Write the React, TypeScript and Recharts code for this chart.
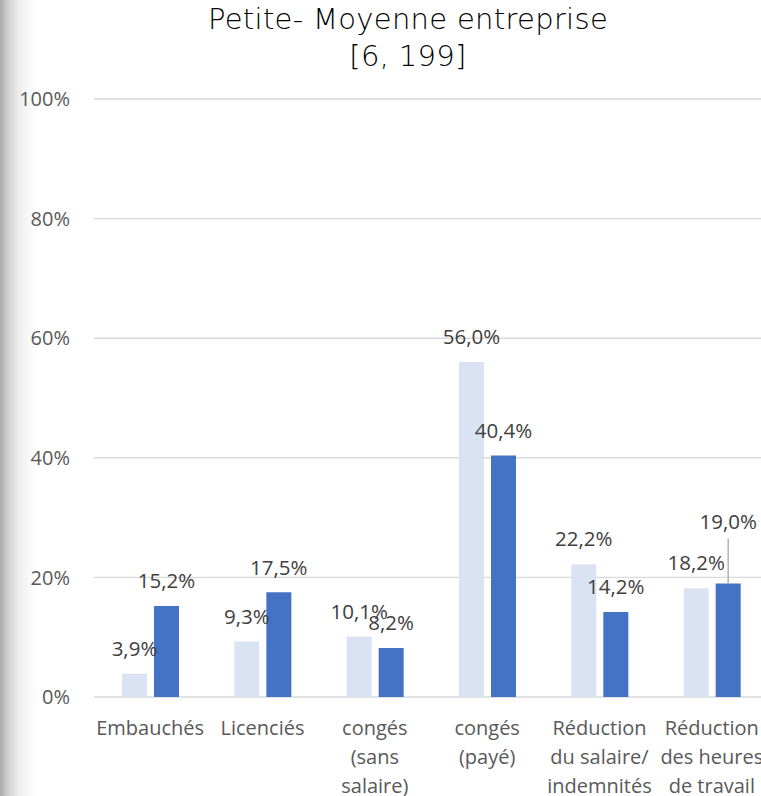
import React from 'react';
import { BarChart, Bar, XAxis, YAxis, CartesianGrid, LabelList } from 'recharts';

const categories = [
  'Embauchés',
  'Licenciés',
  'congés\n(sans\nsalaire)',
  'congés\n(payé)',
  'Réduction\ndu salaire/\nindemnités',
  'Réduction\ndes heures\nde travail',
];
const seriesLight = [3.9, 9.3, 10.1, 56.0, 22.2, 18.2];
const seriesDark = [15.2, 17.5, 8.2, 40.4, 14.2, 19.0];
const yTicks = [0, 20, 40, 60, 80, 100];
const titleLines = ['Petite- Moyenne entreprise', '[6, 199]'];

const data = categories.map((c, i) => ({ name: c, light: seriesLight[i], dark: seriesDark[i] }));

const FONT = "'Open Sans', sans-serif";
const LABEL_GAP = 25;
// leader-line label lift for the last dark bar (Excel manually moved label)
const darkLift: Record<number, number> = { 5: 62 };

const fmt = (v: number) => v.toFixed(1).replace('.', ',') + '%';

const makeLabel = (lift: Record<number, number>) => (props: any) => {
  const { x, y, width, value, index } = props;
  const cx = Number(x) + Number(width) / 2;
  const top = Number(y);
  const l = lift[index];
  const ty = top - (l ?? LABEL_GAP);
  return (
    <g>
      {l !== undefined && (
        <line x1={cx} x2={cx} y1={top} y2={ty + 17} stroke="#a6a6a6" strokeWidth={1.3} />
      )}
      <text x={cx} y={ty} dy="0.35em" textAnchor="middle" fill="#404040" fontSize={20.5} fontFamily={FONT}>
        {fmt(Number(value))}
      </text>
    </g>
  );
};

const XTick = (props: any) => {
  const { x, y, payload } = props;
  const lines = String(payload.value).split('\n');
  return (
    <text x={x} y={y + 31} textAnchor="middle" fill="#595959" fontSize={20} fontFamily={FONT}>
      {lines.map((ln, i) => (
        <tspan key={i} x={x} dy={i === 0 ? '0.35em' : 29}>
          {ln}
        </tspan>
      ))}
    </text>
  );
};

export default function App() {
  return (
    <div
      style={{
        position: 'fixed',
        left: 0,
        top: 0,
        width: 761,
        height: 796,
        overflow: 'hidden',
        background: '#ffffff',
      }}
    >
      <div
        style={{
          position: 'absolute',
          left: 0,
          top: 0,
          width: 38,
          height: 796,
          background: 'linear-gradient(to right, #a9a9a9 0px, #cfcfcf 8px, #ebebeb 18px, #f8f8f8 28px, #ffffff 38px)',
        }}
      />
      <div
        style={{
          position: 'absolute',
          left: 0,
          top: 1,
          width: 816,
          textAlign: 'center',
          fontFamily: "'DejaVu Sans', sans-serif",
          fontWeight: 200,
          fontSize: 29,
          lineHeight: '37px',
          color: '#000000',
          letterSpacing: 0.3,
        }}
      >
        {titleLines.map((t, i) => (
          <div key={i}>{t}</div>
        ))}
      </div>
      <div style={{ position: 'absolute', left: 0, top: 0 }}>
        <BarChart
          width={790}
          height={830}
          data={data}
          margin={{ top: 99, right: 22, left: 0, bottom: 0 }}
          barSize={25}
          barGap={7}
        >
          <CartesianGrid vertical={false} stroke="#d9d9d9" strokeWidth={1.4} />
          <XAxis
            dataKey="name"
            axisLine={false}
            tickLine={false}
            tickSize={0}
            tickMargin={0}
            height={133}
            interval={0}
            tick={<XTick />}
          />
          <YAxis
            domain={[0, 100]}
            ticks={yTicks}
            width={94}
            axisLine={false}
            tickLine={false}
            tickSize={0}
            tickMargin={24}
            tickFormatter={(v: number) => v + '%'}
            tick={{ fill: '#595959', fontSize: 20, fontFamily: FONT }}
          />
          <Bar dataKey="light" fill="#dae3f3" isAnimationActive={false}>
            <LabelList dataKey="light" content={makeLabel({})} />
          </Bar>
          <Bar dataKey="dark" fill="#4472c4" isAnimationActive={false}>
            <LabelList dataKey="dark" content={makeLabel(darkLift)} />
          </Bar>
        </BarChart>
      </div>
    </div>
  );
}
